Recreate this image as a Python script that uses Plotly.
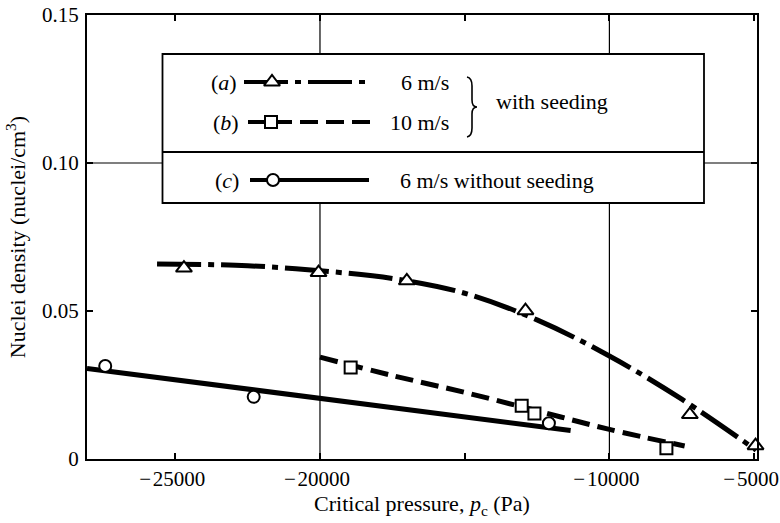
import plotly.graph_objects as go

# ---------------- data ----------------
# (a) 6 m/s with seeding
a_x = [-24700, -20050, -17000, -12900, -7220, -4950]
a_y = [0.0645, 0.0630, 0.0602, 0.0501, 0.0150, 0.0045]
a_fit_x = [-25630, -22500, -20000, -17500, -15000, -12500, -10000, -7500, -4930]
a_fit_y = [0.0659, 0.0653, 0.0636, 0.0610, 0.0560, 0.0470, 0.0348, 0.0202, 0.0030]

# (b) 10 m/s with seeding
b_x = [-18940, -13030, -12590, -8030]
b_y = [0.0309, 0.0180, 0.0154, 0.0036]
b_fit_x = [-20000, -17500, -15000, -12500, -10000, -7400]
b_fit_y = [0.0344, 0.0282, 0.0225, 0.0163, 0.0100, 0.0044]

# (c) 6 m/s without seeding
c_x = [-27420, -22290, -12090]
c_y = [0.0314, 0.0210, 0.0121]
c_fit_x = [-28050, -11340]
c_fit_y = [0.0306, 0.0096]

x_tickvals = [-25000, -20000, -10000, -5000]
x_ticktext = ["\u2212\u200a25000", "\u2212\u200a20000", "\u2212\u200a10000", "\u2212\u200a5000"]
x_minor_tickvals = [-15000]
y_tickvals = [0, 0.05, 0.10, 0.15]
y_ticktext = ["0", "0.05", "0.10", "0.15"]
x_grid = [-20000, -10000]
y_grid = [0.10]

FONT = "Liberation Serif"
FS = 21
FS_T = 22
DASH_A = "44px,7px,6px,7px"
DASH_B = "18px,8px"

fig = go.Figure()

# fitted curves
fig.add_trace(go.Scatter(x=a_fit_x, y=a_fit_y, mode="lines",
                         line=dict(color="black", width=5, dash=DASH_A, shape="spline"),
                         hoverinfo="skip", showlegend=False))
fig.add_trace(go.Scatter(x=b_fit_x, y=b_fit_y, mode="lines",
                         line=dict(color="black", width=5, dash=DASH_B, shape="spline"),
                         hoverinfo="skip", showlegend=False))
fig.add_trace(go.Scatter(x=c_fit_x, y=c_fit_y, mode="lines",
                         line=dict(color="black", width=5),
                         hoverinfo="skip", showlegend=False))

# measured points
mk = dict(color="white", line=dict(color="black", width=2))
fig.add_trace(go.Scatter(x=a_x, y=a_y, mode="markers", cliponaxis=False,
                         marker=dict(symbol="triangle-up", size=14, **mk), showlegend=False))
fig.add_trace(go.Scatter(x=b_x, y=b_y, mode="markers", cliponaxis=False,
                         marker=dict(symbol="square", size=12, **mk), showlegend=False))
fig.add_trace(go.Scatter(x=c_x, y=c_y, mode="markers", cliponaxis=False,
                         marker=dict(symbol="circle", size=12, **mk), showlegend=False))

# ---------------- custom legend on an overlay pixel-like axis ----------------
leg_rows = [
    dict(y=82, x0=244, x1=369, xm=272, dash=DASH_A, sym="triangle-up", size=14),
    dict(y=122, x0=248, x1=370, xm=271, dash=DASH_B, sym="square", size=12),
    dict(y=180, x0=250, x1=369, xm=273, dash="solid", sym="circle", size=12),
]
for r in leg_rows:
    fig.add_trace(go.Scatter(x=[r["x0"], r["x1"]], y=[r["y"], r["y"]], mode="lines",
                             xaxis="x2", yaxis="y2",
                             line=dict(color="black", width=4, dash=r["dash"]),
                             hoverinfo="skip", showlegend=False))
    fig.add_trace(go.Scatter(x=[r["xm"]], y=[r["y"]], mode="markers", xaxis="x2", yaxis="y2",
                             marker=dict(symbol=r["sym"], size=r["size"], **mk),
                             hoverinfo="skip", showlegend=False))

shapes = []
for gx in x_grid:
    shapes.append(dict(type="line", xref="x", yref="paper", x0=gx, x1=gx, y0=0, y1=1,
                       line=dict(color="black", width=1.2), layer="below"))
for gy in y_grid:
    shapes.append(dict(type="line", xref="paper", yref="y", x0=0, x1=1, y0=gy, y1=gy,
                       line=dict(color="black", width=1.2), layer="below"))
# legend box and separator
shapes.append(dict(type="rect", xref="x2", yref="y2", x0=162.5, x1=704, y0=54, y1=203,
                   fillcolor="white", line=dict(color="black", width=1.8), layer="below"))
shapes.append(dict(type="line", xref="x2", yref="y2", x0=162.5, x1=704, y0=152, y1=152,
                   line=dict(color="black", width=1.8), layer="below"))
# brace
shapes.append(dict(type="path", xref="x2", yref="y2",
                   path="M 467,77 Q 472,78 472,86 L 472,100 Q 472,107 477,107 "
                        "Q 472,107 472,114 L 472,128 Q 472,136 467,137",
                   line=dict(color="black", width=1.6), layer="above"))

def ann(x, y, text, xanchor="center"):
    return dict(x=x, y=y, xref="x2", yref="y2", text=text, showarrow=False,
                xanchor=xanchor, yanchor="middle",
                font=dict(family=FONT, size=FS_T, color="black"))

annotations = [
    ann(224, 82, "(<i>a</i>)"),
    ann(226, 122, "(<i>b</i>)"),
    ann(227, 180, "(<i>c</i>)"),
    ann(451, 82, "6 m/s", "right"),
    ann(451, 122, "10 m/s", "right"),
    ann(494, 101, "with seeding", "left"),
    ann(398, 180, "6 m/s without seeding", "left"),
]

axis_common = dict(showline=True, linewidth=2, linecolor="black", mirror="ticks",
                   ticks="inside", ticklen=6, tickwidth=1.5, tickcolor="black",
                   showgrid=False, zeroline=False, automargin=False,
                   ticklabeloverflow="allow",
                   tickfont=dict(family=FONT, size=FS, color="black"))

fig.update_layout(
    width=780, height=523,
    margin=dict(l=87, r=23, t=15, b=64, autoexpand=False),
    paper_bgcolor="white", plot_bgcolor="white",
    showlegend=False,
    font=dict(family=FONT, size=FS, color="black"),
    xaxis=dict(range=[-28050, -4900], tickmode="array", tickvals=x_tickvals, ticktext=x_ticktext,
               ticklabelstandoff=0, ticklabelshift=-3,
               minor=dict(tickmode="array", tickvals=x_minor_tickvals, ticks="inside",
                          ticklen=6, tickwidth=1.5, tickcolor="black", showgrid=False),
               title=dict(text="Critical pressure, <i>p</i><sub>c</sub> (Pa)",
                          font=dict(family=FONT, size=FS_T, color="black"), standoff=2),
               **axis_common),
    yaxis=dict(range=[0, 0.15], tickmode="array", tickvals=y_tickvals, ticktext=y_ticktext,
               ticklabelstandoff=2,
               title=dict(text="Nuclei density (nuclei/cm<sup>3</sup>)",
                          font=dict(family=FONT, size=FS_T, color="black"), standoff=10),
               **axis_common),
    xaxis2=dict(overlaying="x", range=[87, 757], visible=False, fixedrange=True),
    yaxis2=dict(overlaying="y", range=[459, 15], visible=False, fixedrange=True),
    shapes=shapes,
    annotations=annotations,
)

fig.write_html("out.html", config={"displayModeBar": False},
               post_script="document.body.style.margin='0';document.body.style.padding='0';")
